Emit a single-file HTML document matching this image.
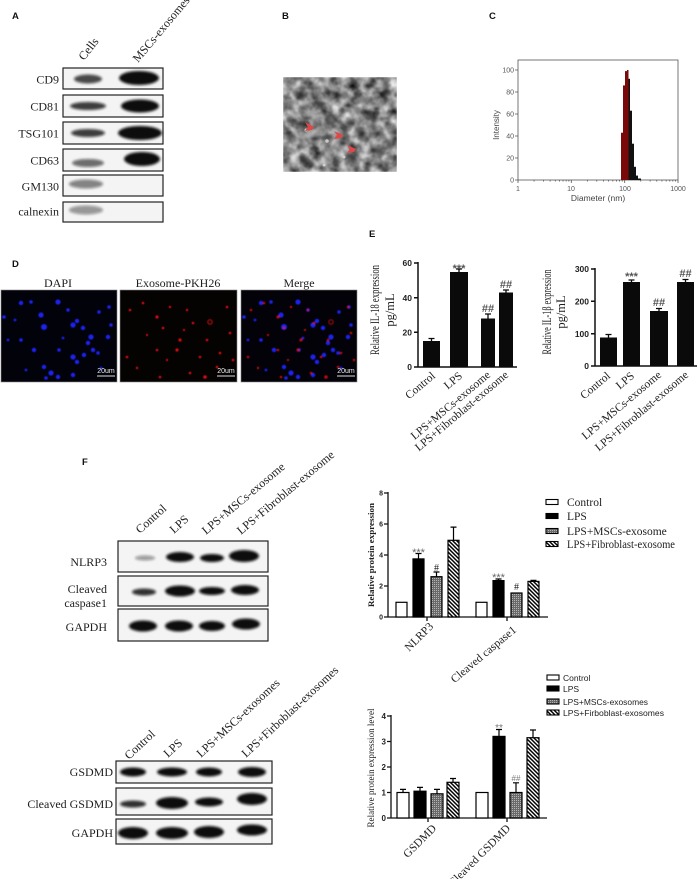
<!DOCTYPE html>
<html><head><meta charset="utf-8"><style>
html,body{margin:0;padding:0;background:#fff;}
svg{display:block;}
.s{font-family:"Liberation Serif",serif;fill:#1e1e1e;}
.a{font-family:"Liberation Sans",sans-serif;}
.L{font-family:"Liberation Sans",sans-serif;font-weight:bold;font-size:9.5px;fill:#111;}
.tk{font-family:"Liberation Sans",sans-serif;font-weight:bold;fill:#222;}
</style></head><body>
<svg width="700" height="879" viewBox="0 0 700 879" xmlns="http://www.w3.org/2000/svg">
<defs>
<filter id="bl" x="-50%" y="-150%" width="200%" height="400%"><feGaussianBlur stdDeviation="1.3"/></filter>
<filter id="sb" x="-50%" y="-50%" width="200%" height="200%"><feGaussianBlur stdDeviation="0.5"/></filter>
<filter id="sb2" x="-50%" y="-50%" width="200%" height="200%"><feGaussianBlur stdDeviation="1.5"/></filter>
<filter id="tem" x="0" y="0" width="100%" height="100%" color-interpolation-filters="sRGB">
 <feTurbulence type="fractalNoise" baseFrequency="0.1" numOctaves="3" seed="7"/>
 <feColorMatrix type="matrix" values="1.15 0 0 0 -0.05 1.15 0 0 0 -0.05 1.15 0 0 0 -0.05 0 0 0 0 1"/>
 <feGaussianBlur stdDeviation="0.8"/>
</filter>
<pattern id="dot" width="2" height="2" patternUnits="userSpaceOnUse"><rect width="2" height="2" fill="#6a6a6a"/><rect width="1" height="1" fill="#b5b5b5"/></pattern>
<pattern id="hat" width="4" height="4" patternUnits="userSpaceOnUse"><rect width="4" height="4" fill="#fff"/><path d="M-1,-1 L5,5 M-1,3 L1,5 M3,-1 L5,1" stroke="#000" stroke-width="1.5"/></pattern>
<g id="dapi" fill="#1c22f0">
 <circle cx="3" cy="27" r="1.8"/><circle cx="20" cy="13" r="2.2"/><circle cx="30" cy="12" r="1.8"/><circle cx="40" cy="25" r="2.6"/>
 <circle cx="43" cy="37" r="3"/><circle cx="57" cy="12" r="2.6"/><circle cx="67" cy="20" r="1.8"/><circle cx="72" cy="35" r="2.6"/>
 <circle cx="76" cy="31" r="2.2"/><circle cx="82" cy="38" r="2.2"/><circle cx="90" cy="47" r="2.6"/><circle cx="87" cy="53" r="2.2"/>
 <circle cx="98" cy="22" r="1.8"/><circle cx="108" cy="17" r="1.8"/><circle cx="107" cy="47" r="2.2"/><circle cx="20" cy="50" r="1.8"/>
 <circle cx="7" cy="50" r="1.4"/><circle cx="33" cy="60" r="2.2"/><circle cx="58" cy="60" r="1.8"/><circle cx="72" cy="67" r="2.6"/>
 <circle cx="76" cy="72" r="2.2"/><circle cx="83" cy="65" r="2.2"/><circle cx="92" cy="60" r="2.2"/><circle cx="97" cy="63" r="1.8"/>
 <circle cx="43" cy="77" r="2.2"/><circle cx="50" cy="83" r="2.6"/><circle cx="57" cy="87" r="2.2"/><circle cx="45" cy="88" r="1.8"/>
 <circle cx="72" cy="85" r="2.2"/><circle cx="14" cy="30" r="1.4"/><circle cx="110" cy="35" r="1.8"/><circle cx="25" cy="80" r="1.4"/>
 <circle cx="100" cy="78" r="1.4"/><circle cx="62" cy="48" r="1.4"/>
</g>
<g id="pkh" fill="#d81010">
 <circle cx="10" cy="20" r="1.3"/><circle cx="23" cy="13" r="1.3"/><circle cx="37" cy="27" r="1.6"/><circle cx="43" cy="38" r="1.3"/>
 <circle cx="50" cy="17" r="1.2"/><circle cx="60" cy="50" r="1.6"/><circle cx="73" cy="33" r="1.3"/><circle cx="90" cy="32" r="2.2" fill="none" stroke="#d81010" stroke-width="1"/>
 <circle cx="107" cy="17" r="1.3"/><circle cx="110" cy="43" r="1.3"/><circle cx="87" cy="50" r="1.3"/><circle cx="37" cy="60" r="1.3"/>
 <circle cx="57" cy="60" r="1.6"/><circle cx="7" cy="67" r="1.3"/><circle cx="80" cy="67" r="1.3"/><circle cx="100" cy="63" r="1.3"/>
 <circle cx="97" cy="77" r="1.3"/><circle cx="70" cy="83" r="1.3"/><circle cx="40" cy="87" r="1.3"/><circle cx="17" cy="78" r="1.2"/>
 <circle cx="113" cy="70" r="1.3"/><circle cx="67" cy="20" r="1.2"/><circle cx="85" cy="87" r="1.8"/><circle cx="27" cy="45" r="1.1"/>
 <circle cx="47" cy="70" r="1.1"/><circle cx="64" cy="40" r="1.1"/>
</g>
</defs>

<!-- ============ PANEL A ============ -->
<text class="L" x="12" y="19">A</text>
<text class="s" font-size="12" transform="translate(84,61) rotate(-52)">Cells</text>
<text class="s" font-size="12" transform="translate(138,63) rotate(-50)">MSCs-exosomes</text>
<g fill="#f4f4f4" stroke="#222" stroke-width="1.2">
 <rect x="63" y="68" width="100" height="21"/>
 <rect x="63" y="95" width="100" height="22"/>
 <rect x="63" y="122" width="100" height="22"/>
 <rect x="63" y="149" width="100" height="22"/>
 <rect x="63" y="175" width="100" height="21"/>
 <rect x="63" y="202" width="100" height="20"/>
</g>
<g filter="url(#bl)" fill="#111">
 <ellipse cx="88" cy="79" rx="14" ry="4.5" opacity=".75"/><ellipse cx="139" cy="78" rx="20" ry="7"/>
 <ellipse cx="88" cy="106" rx="18" ry="4" opacity=".8"/><ellipse cx="140" cy="106" rx="19" ry="6.5"/>
 <ellipse cx="88" cy="133" rx="17" ry="4" opacity=".8"/><ellipse cx="140" cy="133" rx="22" ry="7"/>
 <ellipse cx="88" cy="163" rx="16" ry="4" opacity=".6"/><ellipse cx="142" cy="159" rx="18" ry="7"/>
 <ellipse cx="86" cy="184" rx="17" ry="4.5" opacity=".5"/>
 <ellipse cx="86" cy="210" rx="17" ry="4.5" opacity=".42"/>
</g>
<g class="s" font-size="12" text-anchor="end">
 <text x="59" y="83.5">CD9</text>
 <text x="59" y="110.5">CD81</text>
 <text x="59" y="137.5">TSG101</text>
 <text x="59" y="164.5">CD63</text>
 <text x="59" y="190.5">GM130</text>
 <text x="59" y="215.5">calnexin</text>
</g>

<!-- ============ PANEL B ============ -->
<text class="L" x="282" y="19">B</text>
<rect x="283" y="77" width="114" height="95" filter="url(#tem)"/>
<g fill="#1a1a1a" opacity=".4" filter="url(#sb2)">
 <circle cx="300" cy="95" r="5"/><circle cx="330" cy="120" r="6"/><circle cx="326" cy="140" r="5"/><circle cx="348" cy="158" r="5"/>
 <circle cx="365" cy="100" r="5"/><circle cx="380" cy="150" r="6"/><circle cx="305" cy="160" r="5"/><circle cx="360" cy="130" r="4"/>
 <circle cx="290" cy="120" r="4"/><circle cx="385" cy="85" r="4"/><circle cx="345" cy="95" r="4"/><circle cx="318" cy="104" r="4"/>
 <circle cx="372" cy="118" r="4"/><circle cx="292" cy="140" r="4"/>
</g>
<g fill="#ddd" opacity=".8"><circle cx="327" cy="141" r="1.8"/><circle cx="344" cy="157" r="1.5"/><circle cx="306" cy="130" r="1.5"/><circle cx="324" cy="165" r="1.5"/></g>
<g fill="#e04848">
 <path d="M305,122 L312,130 L305,131 L308,127 Z M305,122 L314,127 L312,130 Z"/>
 <path d="M334,131 L341,138 L334,139 L337,135 Z M334,131 L343,135 L341,138 Z"/>
 <path d="M347,145 L354,152 L347,153 L350,149 Z M347,145 L356,149 L354,152 Z"/>
</g>

<!-- ============ PANEL C ============ -->
<text class="L" x="489" y="19">C</text>
<rect x="518" y="60" width="160" height="120" fill="none" stroke="#555" stroke-width="0.8"/>
<g fill="#7a0a0a">
 <rect x="621" y="132.7" width="2" height="47.3"/>
 <rect x="623" y="85.4" width="2" height="94.6"/>
 <rect x="625" y="71.1" width="2" height="108.9"/>
 <rect x="627" y="70" width="1.5" height="110"/>
</g>
<g fill="#111">
 <rect x="628.5" y="78.8" width="1.5" height="101.2"/>
 <rect x="630" y="110.7" width="2" height="69.3"/>
 <rect x="632" y="143.7" width="2" height="36.3"/>
 <rect x="634" y="166.8" width="2" height="13.2"/>
 <rect x="636" y="175.6" width="2" height="4.4"/>
 <rect x="638" y="178.5" width="3" height="1.5"/>
</g>
<path d="M518,180 v3 M571.3,180 v3 M624.7,180 v3 M678,180 v3
M534.05,180v1.5M543.44,180v1.5M550.1,180v1.5M555.28,180v1.5M559.5,180v1.5M563.07,180v1.5M566.16,180v1.5M568.88,180v1.5
M587.38,180v1.5M596.77,180v1.5M603.43,180v1.5M608.61,180v1.5M612.83,180v1.5M616.4,180v1.5M619.49,180v1.5M622.21,180v1.5
M640.72,180v1.5M650.11,180v1.5M656.77,180v1.5M661.95,180v1.5M666.17,180v1.5M669.74,180v1.5M672.83,180v1.5M675.55,180v1.5
M518,70 h-3 M518,92 h-3 M518,114 h-3 M518,136 h-3 M518,158 h-3 M518,180 h-3" stroke="#555" stroke-width="0.8"/>
<g class="a" font-size="7" fill="#555" text-anchor="end">
 <text x="514" y="72.5">100</text><text x="514" y="94.5">80</text><text x="514" y="116.5">60</text>
 <text x="514" y="138.5">40</text><text x="514" y="160.5">20</text><text x="514" y="182.5">0</text>
</g>
<g class="a" font-size="7" fill="#555" text-anchor="middle">
 <text x="518" y="191">1</text><text x="571" y="191">10</text><text x="625" y="191">100</text><text x="678" y="191">1000</text>
</g>
<text class="a" font-size="8.5" fill="#444" x="598" y="201" text-anchor="middle">Diameter (nm)</text>
<text class="a" font-size="8" fill="#444" transform="translate(499,125) rotate(-90)" text-anchor="middle">Intensity</text>

<!-- ============ PANEL D ============ -->
<text class="L" x="12" y="267">D</text>
<g class="s" font-size="12" text-anchor="middle">
 <text x="58" y="287">DAPI</text><text x="178" y="287">Exosome-PKH26</text><text x="299" y="287">Merge</text>
</g>
<rect x="1" y="290" width="116" height="92" fill="#02020a" stroke="#888" stroke-width="0.6"/>
<rect x="120" y="290" width="117" height="92" fill="#050202" stroke="#888" stroke-width="0.6"/>
<rect x="241" y="290" width="116" height="92" fill="#030208" stroke="#888" stroke-width="0.6"/>
<g filter="url(#sb)">
 <use href="#dapi" transform="translate(1,290)"/>
 <use href="#pkh" transform="translate(120,290)"/>
 <use href="#dapi" transform="translate(241,290)"/>
 <use href="#pkh" transform="translate(241,290)" opacity=".85"/>
</g>
<g fill="#eee" class="a" font-size="7" text-anchor="middle">
 <text x="106" y="373">20um</text><text x="226" y="373">20um</text><text x="346" y="373">20um</text>
</g>
<path d="M97,376 h18 M217,376 h18 M337,376 h18" stroke="#ddd" stroke-width="1"/>

<!-- ============ PANEL E ============ -->
<text class="L" x="369" y="237">E</text>
<!-- chart 1 -->
<path d="M418,262 V367 H517 M414,263 H418 M414,297.7 H418 M414,332.3 H418 M414,367 H418" stroke="#111" stroke-width="1.5" fill="none"/>
<g class="tk" font-size="8.5" text-anchor="end">
 <text x="412" y="266">60</text><text x="412" y="301">40</text><text x="412" y="335.5">20</text><text x="412" y="370">0</text>
</g>
<g fill="#0a0a0a">
 <rect x="423" y="341" width="17" height="26"/>
 <rect x="450" y="272" width="18" height="95"/>
 <rect x="481" y="318.5" width="14" height="48.5"/>
 <rect x="499" y="292.5" width="14" height="74.5"/>
</g>
<path d="M431.5,341 V338.5 M428.5,338.5 h6 M459,272 V269 M456,269 h6 M488,318.5 V314 M485,314 h6 M506,292.5 V290 M503,290 h6" stroke="#0a0a0a" stroke-width="1.3"/>
<g class="a" font-size="11" fill="#555" text-anchor="middle" font-weight="bold">
 <text x="459" y="272">***</text><text x="488" y="312">##</text><text x="506" y="288">##</text>
</g>
<text class="s" font-size="12.5" fill="#444" transform="translate(379,310) rotate(-90)" text-anchor="middle" textLength="90" lengthAdjust="spacingAndGlyphs">Relative IL-18 expression</text>
<text class="s" font-size="12.5" fill="#444" transform="translate(394,310) rotate(-90)" text-anchor="middle">pg/mL</text>
<g class="s" font-size="11.5" text-anchor="end">
 <text transform="translate(436,377) rotate(-40)">Control</text>
 <text transform="translate(463,377) rotate(-40)">LPS</text>
 <text transform="translate(491,376) rotate(-40)">LPS+MSCs-exosome</text>
 <text transform="translate(509,376) rotate(-40)">LPS+Fibroblast-exosome</text>
</g>
<!-- chart 2 -->
<path d="M595,268 V366 H697 M591,269 H595 M591,301.3 H595 M591,333.7 H595 M591,366 H595" stroke="#111" stroke-width="1.5" fill="none"/>
<g class="tk" font-size="8.5" text-anchor="end">
 <text x="589" y="272">300</text><text x="589" y="304.5">200</text><text x="589" y="337">100</text><text x="589" y="369">0</text>
</g>
<g fill="#0a0a0a">
 <rect x="600" y="337.5" width="17" height="28.5"/>
 <rect x="623" y="282" width="17" height="84"/>
 <rect x="650" y="311" width="18" height="55"/>
 <rect x="677" y="282" width="17" height="84"/>
</g>
<path d="M608.5,337.5 V334.5 M605.5,334.5 h6 M631.5,282 V280 M628.5,280 h6 M659,311 V308.5 M656,308.5 h6 M685.5,282 V279.5 M682.5,279.5 h6" stroke="#0a0a0a" stroke-width="1.3"/>
<g class="a" font-size="11" fill="#555" text-anchor="middle" font-weight="bold">
 <text x="631.5" y="280">***</text><text x="659" y="306">##</text><text x="685.5" y="277">##</text>
</g>
<text class="s" font-size="12.5" fill="#444" transform="translate(551,312) rotate(-90)" text-anchor="middle" textLength="85" lengthAdjust="spacingAndGlyphs">Relative IL-1β expression</text>
<text class="s" font-size="12.5" fill="#444" transform="translate(565,312) rotate(-90)" text-anchor="middle">pg/mL</text>
<g class="s" font-size="11.5" text-anchor="end">
 <text transform="translate(611,377) rotate(-40)">Control</text>
 <text transform="translate(635,377) rotate(-40)">LPS</text>
 <text transform="translate(662,376) rotate(-40)">LPS+MSCs-exosome</text>
 <text transform="translate(689,376) rotate(-40)">LPS+Fibroblast-exosome</text>
</g>

<!-- ============ PANEL F ============ -->
<text class="L" x="82" y="465">F</text>
<!-- top blots -->
<g class="s" font-size="12">
 <text transform="translate(140,534) rotate(-42)">Control</text>
 <text transform="translate(174,534) rotate(-42)">LPS</text>
 <text transform="translate(206,535) rotate(-40)">LPS+MSCs-exosome</text>
 <text transform="translate(241,535) rotate(-40)">LPS+Fibroblast-exosome</text>
</g>
<g fill="#f4f4f4" stroke="#222" stroke-width="1.2">
 <rect x="118" y="541" width="150" height="31"/>
 <rect x="118" y="576" width="150" height="30"/>
 <rect x="118" y="609" width="150" height="32"/>
</g>
<g filter="url(#bl)" fill="#111">
 <ellipse cx="145" cy="558" rx="10" ry="2.5" opacity=".4"/>
 <ellipse cx="180" cy="557" rx="14" ry="5"/>
 <ellipse cx="212" cy="558" rx="12" ry="4"/>
 <ellipse cx="244" cy="556" rx="15" ry="6"/>
 <ellipse cx="144" cy="592" rx="12" ry="3.5" opacity=".85"/>
 <ellipse cx="180" cy="591" rx="15" ry="5.5"/>
 <ellipse cx="212" cy="591" rx="13" ry="4"/>
 <ellipse cx="245" cy="590" rx="14" ry="5"/>
 <ellipse cx="143" cy="626" rx="14" ry="5.5"/>
 <ellipse cx="179" cy="626" rx="14" ry="5.5"/>
 <ellipse cx="212" cy="626" rx="13" ry="5"/>
 <ellipse cx="246" cy="624" rx="14" ry="5.5"/>
</g>
<g class="s" font-size="12" text-anchor="end">
 <text x="107" y="566">NLRP3</text>
 <text x="107" y="593">Cleaved</text>
 <text x="107" y="607">caspase1</text>
 <text x="107" y="631">GAPDH</text>
</g>
<!-- top chart -->
<path d="M388,492 V617 H548 M384,493 H388 M384,524 H388 M384,555 H388 M384,586 H388 M384,617 H388 M427,617 v4 M507,617 v4" stroke="#111" stroke-width="1.3" fill="none"/>
<g class="tk" font-size="7" text-anchor="end">
 <text x="383" y="495.5">8</text><text x="383" y="526.5">6</text><text x="383" y="557.5">4</text><text x="383" y="588.5">2</text><text x="383" y="619.5">0</text>
</g>
<text class="s" font-size="8" font-weight="bold" transform="translate(374,555) rotate(-90)" text-anchor="middle" textLength="104" lengthAdjust="spacingAndGlyphs">Relative protein expression</text>
<g stroke="#000" stroke-width="1.2">
 <rect x="396" y="602.3" width="11" height="14.7" fill="#fff"/>
 <rect x="413" y="558.9" width="11" height="58.1" fill="#000"/>
 <rect x="431" y="576.7" width="11" height="40.3" fill="url(#dot)"/>
 <rect x="448" y="540.3" width="11" height="76.7" fill="url(#hat)"/>
 <rect x="476" y="602.3" width="11" height="14.7" fill="#fff"/>
 <rect x="493" y="580.6" width="11" height="36.4" fill="#000"/>
 <rect x="511" y="593" width="11" height="24" fill="url(#dot)"/>
 <rect x="528" y="581.4" width="11" height="35.6" fill="url(#hat)"/>
 <path d="M418.5,558.9 V553.5 M415.5,553.5 h6 M436.5,576.7 V572 M433.5,572 h6 M453.5,540.3 V527.1 M450.5,527.1 h6 M498.5,580.6 V579 M495.5,579 h6 M533.5,581.4 V580.4 M530.5,580.4 h6" fill="none"/>
</g>
<g class="a" font-size="11" fill="#666" text-anchor="middle">
 <text x="418.5" y="556">***</text><text x="498.5" y="581">***</text>
</g>
<g class="s" font-size="10" fill="#555" text-anchor="middle">
 <text x="436.5" y="571">#</text><text x="516.5" y="590">#</text>
</g>
<g class="s" font-size="11.5" text-anchor="end">
 <text transform="translate(434,627) rotate(-45)">NLRP3</text>
 <text transform="translate(517,631) rotate(-40)">Cleaved caspase1</text>
</g>
<!-- top legend -->
<g stroke="#000" stroke-width="1.1">
 <rect x="546" y="499.5" width="12" height="5" fill="#fff"/>
 <rect x="546" y="513.5" width="12" height="5" fill="#000"/>
 <rect x="546" y="528.5" width="12" height="5" fill="url(#dot)"/>
 <rect x="546" y="541.5" width="12" height="5" fill="url(#hat)"/>
</g>
<g class="s" font-size="11.5">
 <text x="567" y="506">Control</text>
 <text x="567" y="520">LPS</text>
 <text x="567" y="535">LPS+MSCs-exosome</text>
 <text x="567" y="548" textLength="108" lengthAdjust="spacingAndGlyphs">LPS+Fibroblast-exosome</text>
</g>

<!-- bottom blots -->
<g class="s" font-size="12">
 <text transform="translate(129,760) rotate(-43)">Control</text>
 <text transform="translate(168,758) rotate(-43)">LPS</text>
 <text transform="translate(201,758) rotate(-43)">LPS+MSCs-exosomes</text>
 <text transform="translate(246,758) rotate(-43)">LPS+Firboblast-exosomes</text>
</g>
<g fill="#f4f4f4" stroke="#222" stroke-width="1.2">
 <rect x="116" y="761" width="156" height="22"/>
 <rect x="116" y="788" width="156" height="27"/>
 <rect x="116" y="819" width="156" height="25"/>
</g>
<g filter="url(#bl)" fill="#111">
 <ellipse cx="133" cy="772" rx="13" ry="4.5"/>
 <ellipse cx="172" cy="772" rx="15" ry="4.5"/>
 <ellipse cx="209" cy="772" rx="13" ry="4.5"/>
 <ellipse cx="252" cy="772" rx="14" ry="5"/>
 <ellipse cx="133" cy="804" rx="13" ry="3.5" opacity=".85"/>
 <ellipse cx="172" cy="803" rx="16" ry="6"/>
 <ellipse cx="209" cy="802" rx="14" ry="4.5"/>
 <ellipse cx="252" cy="799" rx="15" ry="6"/>
 <ellipse cx="133" cy="833" rx="15" ry="6"/>
 <ellipse cx="172" cy="833" rx="16" ry="6"/>
 <ellipse cx="209" cy="832" rx="15" ry="6"/>
 <ellipse cx="252" cy="830" rx="15" ry="5.5"/>
</g>
<g class="s" font-size="12" text-anchor="end">
 <text x="113" y="776">GSDMD</text>
 <text x="113" y="808">Cleaved GSDMD</text>
 <text x="113" y="837">GAPDH</text>
</g>
<!-- bottom chart -->
<path d="M391,715 V818 H547 M387,716 H391 M387,741.5 H391 M387,767 H391 M387,792.5 H391 M387,818 H391 M428,818 v4 M507,818 v4" stroke="#111" stroke-width="1.3" fill="none"/>
<g class="tk" font-size="8" text-anchor="end">
 <text x="386" y="719">4</text><text x="386" y="744.5">3</text><text x="386" y="770">2</text><text x="386" y="795.5">1</text><text x="386" y="821">0</text>
</g>
<text class="s" font-size="9" fill="#555" transform="translate(374,768) rotate(-90)" text-anchor="middle" textLength="119" lengthAdjust="spacingAndGlyphs">Relative protein expression level</text>
<g stroke="#000" stroke-width="1.2">
 <rect x="397" y="792.5" width="12" height="25.5" fill="#fff"/>
 <rect x="414" y="791.2" width="12" height="26.8" fill="#000"/>
 <rect x="431" y="793.8" width="12" height="24.2" fill="url(#dot)"/>
 <rect x="447" y="782.3" width="12" height="35.7" fill="url(#hat)"/>
 <rect x="476" y="792.5" width="12" height="25.5" fill="#fff"/>
 <rect x="493" y="736.4" width="12" height="81.6" fill="#000"/>
 <rect x="510" y="792.5" width="12" height="25.5" fill="url(#dot)"/>
 <rect x="527" y="737.7" width="12" height="80.3" fill="url(#hat)"/>
 <path d="M403,792.5 V789.4 M400,789.4 h6 M420,791.2 V787.4 M417,787.4 h6 M437,793.8 V789.4 M434,789.4 h6 M453,782.3 V778.5 M450,778.5 h6 M499,736.4 V729.5 M496,729.5 h6 M516,792.5 V782.8 M513,782.8 h6 M533,737.7 V730 M530,730 h6" fill="none"/>
</g>
<g class="a" font-size="10" fill="#777" text-anchor="middle">
 <text x="499" y="731">**</text>
</g>
<g class="a" font-size="8" fill="#777" text-anchor="middle">
 <text x="516" y="781">##</text>
</g>
<g class="s" font-size="11.5" text-anchor="end">
 <text transform="translate(437,829) rotate(-45)">GSDMD</text>
 <text transform="translate(511,829) rotate(-45)">Cleaved GSDMD</text>
</g>
<!-- bottom legend -->
<g stroke="#000" stroke-width="1.1">
 <rect x="547" y="675" width="12" height="5" fill="#fff"/>
 <rect x="547" y="686" width="12" height="5" fill="#000"/>
 <rect x="547" y="699" width="12" height="5" fill="url(#dot)"/>
 <rect x="547" y="710" width="12" height="5" fill="url(#hat)"/>
</g>
<g class="a" font-size="8.5" fill="#222">
 <text x="563" y="681">Control</text>
 <text x="563" y="692">LPS</text>
 <text x="563" y="705" textLength="85" lengthAdjust="spacingAndGlyphs">LPS+MSCs-exosomes</text>
 <text x="563" y="716" textLength="101" lengthAdjust="spacingAndGlyphs">LPS+Firboblast-exosomes</text>
</g>
</svg>
</body></html>
